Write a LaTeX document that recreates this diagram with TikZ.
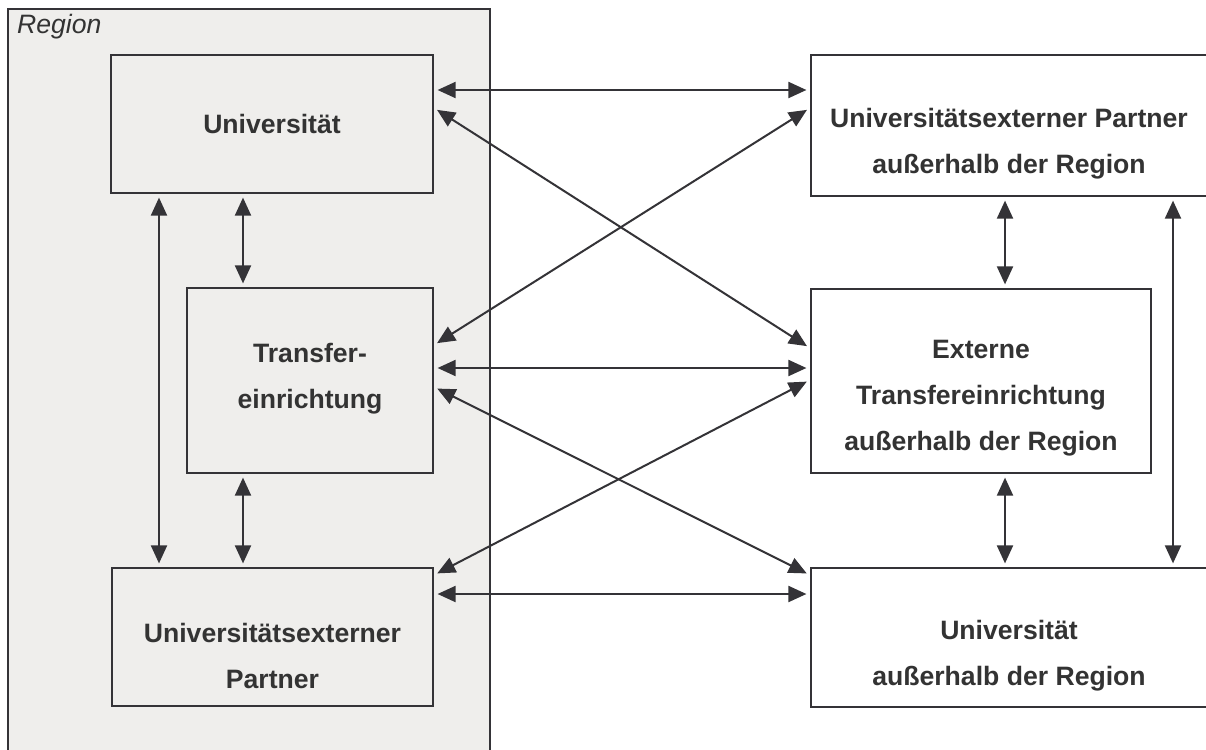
\documentclass[tikz,border=0pt]{standalone}
\usepackage{fontspec}
\setmainfont{Liberation Sans}
\usetikzlibrary{arrows.meta}
\definecolor{ink}{HTML}{343337}
\definecolor{txt}{HTML}{333333}
\definecolor{regionfill}{HTML}{EFEEEC}
\tikzset{
  box/.style={draw=ink, line width=2.2pt, rectangle, inner sep=0pt},
  lbl/.style={text=txt, font=\fontsize{26.6}{46}\selectfont\bfseries, align=center, inner sep=0pt},
  link/.style={draw=ink, line width=2pt,
    {Triangle[length=18pt,width=16pt]}-{Triangle[length=18pt,width=16pt]},
    shorten <=3.5pt, shorten >=3.5pt},
}
\begin{document}
\begin{tikzpicture}[x=1pt,y=-1pt]
\useasboundingbox (0,0) rectangle (1206,749);
\fill[white] (0,0) rectangle (1206,749);
% the region (open at the bottom)
\fill[regionfill] (8,9) rectangle (490,770);
\draw[ink, line width=2.2pt] (8,770) -- (8,9) -- (490,9) -- (490,770);
\node[anchor=base west, text=txt, font=\fontsize{26.6}{30}\selectfont\itshape, inner sep=0pt] (regionlabel) at (17,33.5) {Region};

% boxes inside the region
\node[box, fill=regionfill, minimum width=322pt, minimum height=138pt] (uni) at (272,124) {};
\node[box, fill=regionfill, minimum width=246pt, minimum height=185pt] (tra) at (310,380.5) {};
\node[box, fill=regionfill, minimum width=321pt, minimum height=138pt] (uep) at (272.5,637) {};
% boxes outside the region
\node[box, fill=white, minimum width=397pt, minimum height=141pt] (upa) at (1009.5,125.5) {};
\node[box, fill=white, minimum width=340pt, minimum height=184pt] (ext) at (981,381) {};
\node[box, fill=white, minimum width=397pt, minimum height=139pt] (ua) at (1009.5,637.5) {};

% labels
\node[lbl] (uni-t) at (272,124) {Universität};
\node[lbl] (tra-t) at (310,379) {Transfer-\\einrichtung};
\node[lbl] (uep-t) at (272.5,656) {Universitätsexterner\\Partner};
\node[lbl] (upa-t) at (1009,144) {Universitätsexterner Partner\\außerhalb der Region};
\node[lbl] (ext-t) at (981,398) {Externe\\Transfereinrichtung\\außerhalb der Region};
\node[lbl] (ua-t) at (1009,656) {Universität\\außerhalb der Region};

% connectors within the region
\draw[link] (uni.south -| 243,0) -- (tra.north -| 243,0);
\draw[link] (uni.south -| 159,0) -- (uep.north -| 159,0);
\draw[link] (tra.south -| 243,0) -- (uep.north -| 243,0);
% connectors outside the region
\draw[link] (upa.south -| 1005,0) -- (ext.north -| 1005,0);
\draw[link] (ext.south -| 1005,0) -- (ua.north -| 1005,0);
\draw[link] (upa.south -| 1173,0) -- (ua.north -| 1173,0);
% horizontal links
\draw[link] (uni.east |- 0,90) -- (upa.west |- 0,90);
\draw[link] (tra.east |- 0,368) -- (ext.west |- 0,368);
\draw[link] (uep.east |- 0,594) -- (ua.west |- 0,594);
% diagonal links
\draw[link] (uni.east |- 0,108) -- (ext.west |- 0,348);
\draw[link] (tra.east |- 0,345) -- (upa.west |- 0,108);
\draw[link] (tra.east |- 0,387) -- (ua.west |- 0,575);
\draw[link] (uep.east |- 0,575) -- (ext.west |- 0,380);
\end{tikzpicture}
\end{document}
